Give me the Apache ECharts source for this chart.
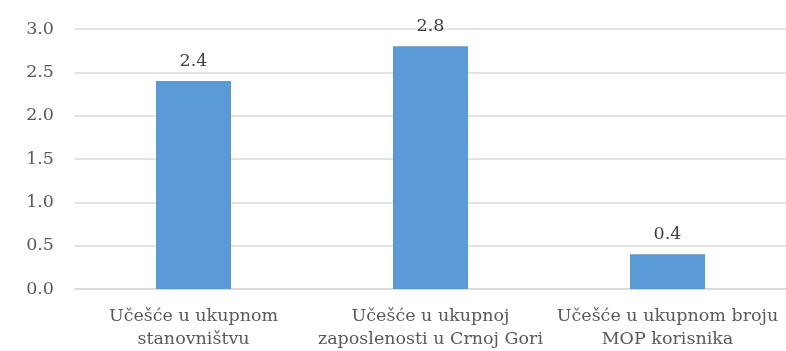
<!DOCTYPE html>
<html>
<head>
<meta charset="utf-8">
<script src="https://cdn.jsdelivr.net/npm/echarts@6/dist/echarts.min.js"></script>
<style>
  html, body { margin: 0; padding: 0; background: #fff; }
  #chart { width: 786px; height: 351px; }
</style>
</head>
<body>
<div id="chart"></div>
<script>
const categories = [
  'Učešće u ukupnom\nstanovništvu',
  'Učešće u ukupnoj\nzaposlenosti u Crnoj Gori',
  'Učešće u ukupnom broju\nMOP korisnika'
];
const values = [2.4, 2.8, 0.4];

const font = '"DejaVu Serif", serif';
const myChart = echarts.init(document.getElementById('chart'));
myChart.setOption({
  animation: false,
  grid: { left: 75, right: -7, top: 29, bottom: 62 },
  xAxis: {
    type: 'category',
    data: categories,
    axisLine: { lineStyle: { color: '#d9d9d9', width: 1.5 } },
    axisTick: { show: false },
    axisLabel: {
      color: '#595959',
      fontFamily: font,
      fontSize: 17.5,
      lineHeight: 23,
      margin: 16,
      interval: 0
    }
  },
  yAxis: {
    type: 'value',
    min: 0,
    max: 3,
    interval: 0.5,
    axisLine: { show: false },
    axisTick: { show: false },
    splitLine: { lineStyle: { color: '#d9d9d9', width: 1.5 } },
    axisLabel: {
      color: '#595959',
      fontFamily: font,
      fontSize: 17.5,
      margin: 21,
      formatter: v => v.toFixed(1)
    }
  },
  series: [{
    type: 'bar',
    data: values,
    barWidth: 75,
    itemStyle: { color: '#5b9bd5' },
    label: {
      show: true,
      position: 'top',
      distance: 11,
      color: '#404040',
      fontFamily: font,
      fontSize: 17.5,
      formatter: p => p.value.toFixed(1)
    }
  }]
});
</script>
</body>
</html>
